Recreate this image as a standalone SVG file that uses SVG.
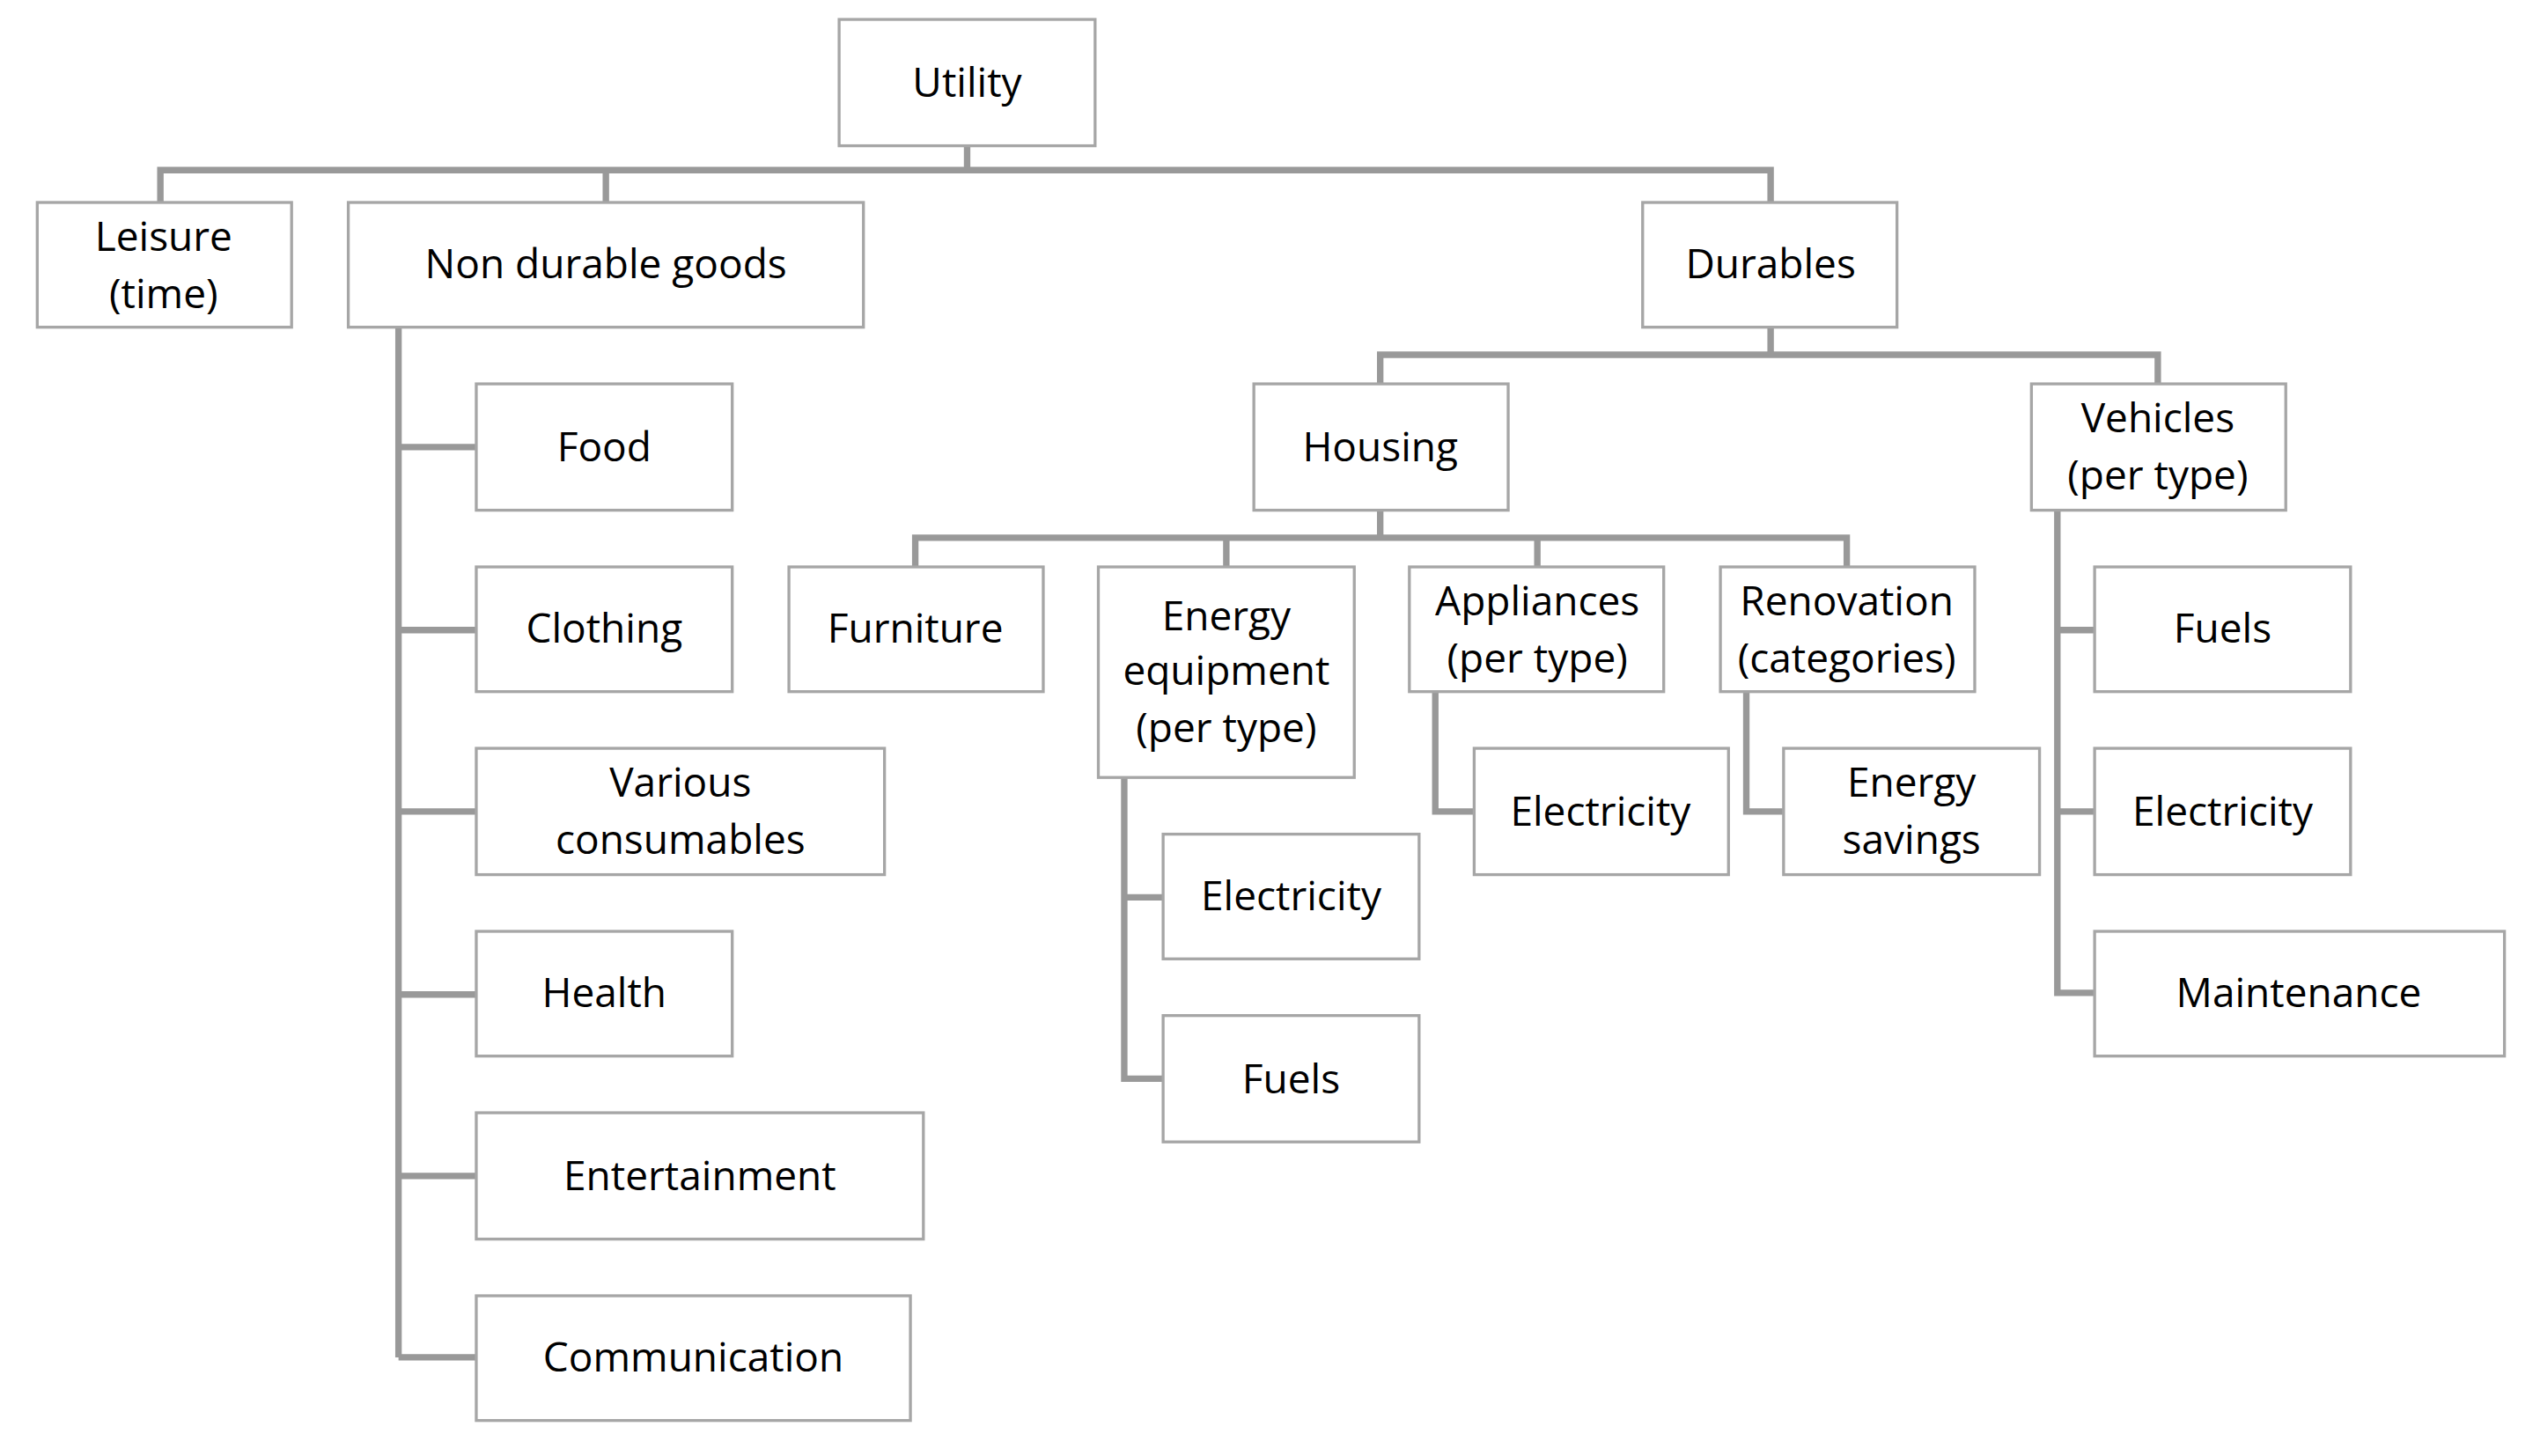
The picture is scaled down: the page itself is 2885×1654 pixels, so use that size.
<svg xmlns="http://www.w3.org/2000/svg" width="2885" height="1654" viewBox="0 0 2885 1654">
<style>
.b{fill:#fff;stroke:#a6a6a6;stroke-width:1.8}
.t{font-family:"Open Sans","Liberation Sans",sans-serif;font-size:25px;fill:#000;text-anchor:middle}
.c{fill:none;stroke:#999;stroke-width:4}
</style>
<rect width="2885" height="1654" fill="#fff"/>
<g transform="scale(1.84)">
<g id="connectors">
<path class="c" d="M597 90V105M99 125V105H1093V125M374 105V125"/>
<path class="c" d="M246 202V838M246 276H294M246 389H294M246 501H294M246 614H294M246 726H294M246 838H294"/>
<path class="c" d="M1093 202V219M852 237V219H1332V237"/>
<path class="c" d="M852 315V332M565 350V332H1140V350M757 332V350M949 332V350"/>
<path class="c" d="M694 480V666H718M694 554H718"/>
<path class="c" d="M886 427V501H910"/>
<path class="c" d="M1078 427V501H1101"/>
<path class="c" d="M1270 315V613H1293M1270 389H1293M1270 501H1293"/>
</g>
<g id="utility"><rect class="b" x="518" y="12" width="158" height="78"/><text class="t" x="597" y="60">Utility</text></g>
<g id="leisure"><rect class="b" x="23" y="125" width="157" height="77"/><text class="t" x="101" y="155">Leisure</text><text class="t" x="101" y="190">(time)</text></g>
<g id="nondurable"><rect class="b" x="215" y="125" width="318" height="77"/><text class="t" x="374" y="172">Non durable goods</text></g>
<g id="durables"><rect class="b" x="1014" y="125" width="157" height="77"/><text class="t" x="1093" y="172">Durables</text></g>
<g id="food"><rect class="b" x="294" y="237" width="158" height="78"/><text class="t" x="373" y="285">Food</text></g>
<g id="clothing"><rect class="b" x="294" y="350" width="158" height="77"/><text class="t" x="373" y="397">Clothing</text></g>
<g id="various"><rect class="b" x="294" y="462" width="252" height="78"/><text class="t" x="420" y="492">Various</text><text class="t" x="420" y="527">consumables</text></g>
<g id="health"><rect class="b" x="294" y="575" width="158" height="77"/><text class="t" x="373" y="622">Health</text></g>
<g id="entertainment"><rect class="b" x="294" y="687" width="276" height="78"/><text class="t" x="432" y="735">Entertainment</text></g>
<g id="communication"><rect class="b" x="294" y="800" width="268" height="77"/><text class="t" x="428" y="847">Communication</text></g>
<g id="housing"><rect class="b" x="774" y="237" width="157" height="78"/><text class="t" x="852" y="285">Housing</text></g>
<g id="vehicles"><rect class="b" x="1254" y="237" width="157" height="78"/><text class="t" x="1332" y="267">Vehicles</text><text class="t" x="1332" y="302">(per type)</text></g>
<g id="furniture"><rect class="b" x="487" y="350" width="157" height="77"/><text class="t" x="565" y="397">Furniture</text></g>
<g id="energyequip"><rect class="b" x="678" y="350" width="158" height="130"/><text class="t" x="757" y="389">Energy</text><text class="t" x="757" y="423">equipment</text><text class="t" x="757" y="458">(per type)</text></g>
<g id="appliances"><rect class="b" x="870" y="350" width="157" height="77"/><text class="t" x="949" y="380">Appliances</text><text class="t" x="949" y="415">(per type)</text></g>
<g id="renovation"><rect class="b" x="1062" y="350" width="157" height="77"/><text class="t" x="1140" y="380">Renovation</text><text class="t" x="1140" y="415">(categories)</text></g>
<g id="ee_electricity"><rect class="b" x="718" y="515" width="158" height="77"/><text class="t" x="797" y="562">Electricity</text></g>
<g id="ee_fuels"><rect class="b" x="718" y="627" width="158" height="78"/><text class="t" x="797" y="675">Fuels</text></g>
<g id="ap_electricity"><rect class="b" x="910" y="462" width="157" height="78"/><text class="t" x="988" y="510">Electricity</text></g>
<g id="energysavings"><rect class="b" x="1101" y="462" width="158" height="78"/><text class="t" x="1180" y="492">Energy</text><text class="t" x="1180" y="527">savings</text></g>
<g id="v_fuels"><rect class="b" x="1293" y="350" width="158" height="77"/><text class="t" x="1372" y="397">Fuels</text></g>
<g id="v_electricity"><rect class="b" x="1293" y="462" width="158" height="78"/><text class="t" x="1372" y="510">Electricity</text></g>
<g id="maintenance"><rect class="b" x="1293" y="575" width="253" height="77"/><text class="t" x="1419" y="622">Maintenance</text></g>
</g>
</svg>
